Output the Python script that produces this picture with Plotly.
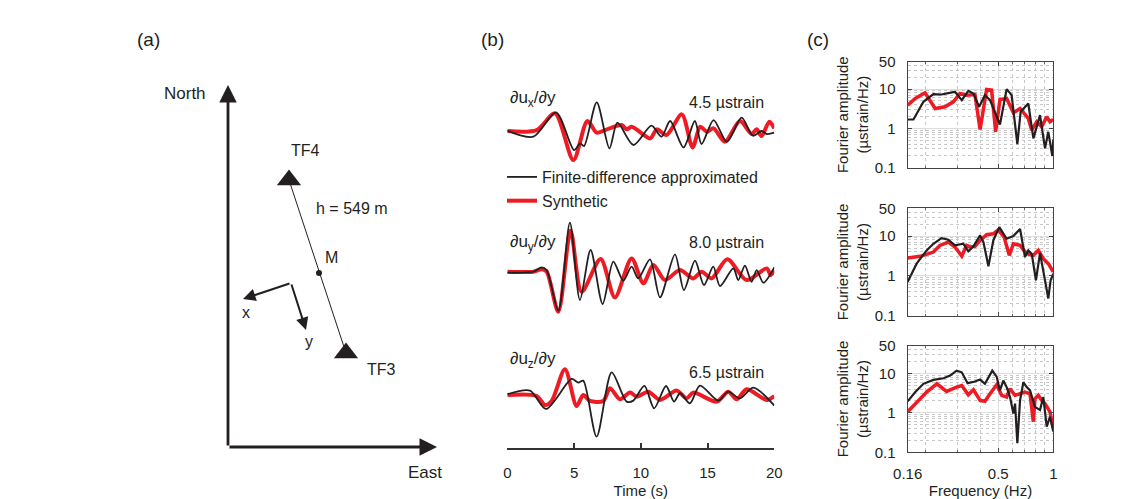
import plotly.graph_objects as go
import math

W, H = 1139, 499
BLACK = "#231F20"
RED = "#ED1C24"
FONT = "Liberation Sans"

# ---------------- Panel (a): geometry (map units, origin at the North/East corner) -------------
station_names = ["TF4", "TF3"]
station_east = [61, 118]
station_north = [267, 94]
mid_east = [91]
mid_north = [174]
north_axis_east = [0, 0]
north_axis_north = [0, 362]
east_axis_east = [0, 209]
east_axis_north = [0, 0]
local_x_east = [63, 15]
local_x_north = [164, 148]
local_y_east = [63, 78]
local_y_north = [164, 117]

# ---------------- Panel (b): strain time series (microstrain) ----------------
t_x_fd = [0, 1.95, 3.65, 5.0, 5.45, 5.75, 6.7, 7.65, 8.25, 9.45, 10.8, 11.55, 12.2, 13.2, 14.05,
          14.55, 15.45, 16.45, 17.55, 18.4, 19.05, 19.45, 20]
v_x_fd = [0, -0.93, 2.84, -3.0, -1.96, -2.38, 4.39, -2.74, 1.24, -2.22, 0.78, -0.93, 1.50, -2.59,
          1.50, -2.07, 1.65, -1.71, 2.02, -0.78, -0.05, -0.52, -0.31]
t_x_syn = [0, 2.2, 3.57, 4.95, 6.0, 6.7, 7.32, 8.57, 8.95, 9.32, 10.7, 11.2, 11.93, 13.07, 13.88,
           14.45, 14.95, 15.45, 16.3, 17.43, 18.3, 18.68, 19.05, 19.63, 20]
v_x_syn = [-0.05, 0.10, 2.69, -4.55, 1.50, -0.31, 0.10, 0.88, 0.21, 0.62, -1.19, 0.21, -0.67, 2.53,
           -2.59, 0.62, -0.16, 0.36, -1.71, 1.50, -0.52, 0.21, -0.83, 1.40, 0.36]

t_y_fd = [0, 1.95, 2.57, 2.95, 3.82, 4.69, 5.44, 6.24, 7.14, 7.94, 8.69, 9.31, 9.81, 10.69, 11.44,
          12.56, 13.23, 14.06, 14.73, 15.43, 15.93, 16.93, 17.3, 17.8, 18.3, 18.68, 19.18, 20]
v_y_fd = [0, 0.16, 0.83, 0.41, -5.89, 7.76, -4.24, 3.52, -4.86, 1.71, -1.24, 0.93, -0.88, 2.07, -3.83,
          2.84, -2.69, 1.86, -1.91, 0.93, -2.07, 0.67, -1.14, 1.09, -1.40, 0.41, -1.55, 0.83]
t_y_syn = [0, 1.95, 2.57, 2.95, 3.82, 4.74, 5.57, 6.99, 8.06, 9.31, 10.19, 10.94, 11.81, 12.93, 13.93,
           14.56, 15.3, 16.48, 17.93, 19.43, 19.73, 20]
v_y_syn = [0.16, 0.16, 0.52, 0.16, -6.05, 6.51, -2.95, 2.12, -3.83, 2.22, -1.65, 1.19, -1.14, 0.41,
           -0.88, 0.16, -0.88, 2.07, -1.14, 0.67, -0.36, 0.41]

t_z_fd = [0, 1.7, 2.9, 4.82, 5.32, 5.69, 6.69, 7.82, 8.94, 9.44, 10.27, 11.0, 11.89, 12.49, 12.94,
          13.68, 14.43, 15.81, 16.55, 17.43, 18.43, 20]
v_z_fd = [0, 0.57, -2.27, 2.38, 1.81, 2.12, -6.57, 3.41, -1.14, -0.98, 1.29, -2.17, 1.29, -1.14, 0.16,
          -1.40, 1.34, -0.98, 0.41, -0.62, 1.03, -1.76]
t_z_syn = [0, 2.2, 2.82, 3.32, 4.32, 5.19, 5.69, 6.19, 7.19, 7.69, 8.44, 9.19, 9.69, 10.56, 11.44,
           12.69, 13.43, 13.93, 15.68, 16.55, 17.18, 17.93, 19.43, 20]
v_z_syn = [-0.10, -0.26, -1.65, -1.03, 3.88, -1.81, -0.10, -1.03, -1.03, 0.93, -0.78, 0.26, -0.36,
           0.41, -0.88, 0.57, -0.62, 0.26, -1.14, 0.41, -0.78, 0.78, -0.88, -0.26]

component_labels = ["∂u<sub>x</sub>/∂y", "∂u<sub>y</sub>/∂y", "∂u<sub>z</sub>/∂y"]
scale_labels = ["4.5 \u00b5strain", "8.0 \u00b5strain", "6.5 \u00b5strain"]
time_ticks = [0, 5, 10, 15, 20]

# ---------------- Panel (c): Fourier amplitude spectra (microstrain/Hz) ----------------
f_x_fd = [0.160, 0.172, 0.195, 0.221, 0.245, 0.267, 0.290, 0.316, 0.343, 0.366, 0.393, 0.423, 0.451,
          0.511, 0.556, 0.592, 0.636, 0.663, 0.730, 0.778, 0.846, 0.901, 0.939, 0.988, 1.0]
a_x_fd = [1.69, 1.69, 4.76, 7.46, 7.31, 7.76, 8.56, 5.25, 9.07, 7.76, 3.56, 7.04, 5.25, 1.26, 10.0,
          7.04, 0.40, 2.65, 4.32, 0.557, 2.18, 0.31, 0.82, 0.198, 0.525]
f_x_syn = [0.160, 0.176, 0.199, 0.226, 0.256, 0.284, 0.309, 0.336, 0.373, 0.398, 0.432, 0.460, 0.484,
           0.511, 0.556, 0.605, 0.658, 0.730, 0.762, 0.811, 0.864, 0.920, 0.959, 1.0]
a_x_syn = [3.92, 5.79, 8.07, 3.22, 3.56, 4.76, 7.76, 7.04, 7.31, 0.944, 9.81, 9.43, 0.822, 5.46, 5.79,
           2.50, 3.22, 1.80, 0.908, 1.48, 1.10, 1.98, 1.48, 1.69]

f_y_fd = [0.160, 0.179, 0.203, 0.221, 0.245, 0.267, 0.290, 0.322, 0.343, 0.366, 0.398, 0.415, 0.442,
          0.470, 0.507, 0.556, 0.605, 0.658, 0.700, 0.730, 0.762, 0.804, 0.846, 0.901, 0.939, 0.967, 1.0]
a_y_fd = [0.708, 2.03, 4.38, 6.43, 8.91, 8.10, 5.84, 6.43, 4.14, 5.52, 10.4, 7.08, 1.74, 7.79, 16.8,
          8.58, 10.0, 15.2, 2.99, 4.38, 3.62, 0.779, 3.76, 0.858, 0.271, 0.779, 1.14]
f_y_syn = [0.160, 0.187, 0.221, 0.240, 0.267, 0.290, 0.316, 0.336, 0.351, 0.373, 0.398, 0.432, 0.470,
           0.501, 0.538, 0.575, 0.605, 0.658, 0.715, 0.778, 0.828, 0.882, 0.939, 0.980, 1.0]
a_y_syn = [2.82, 3.10, 3.98, 5.84, 7.08, 5.31, 3.16, 5.84, 5.31, 5.52, 7.79, 10.8, 11.4, 14.4, 9.44,
           3.29, 6.43, 5.84, 3.62, 3.29, 4.38, 2.71, 2.03, 1.39, 1.26]

f_z_fd = [0.160, 0.176, 0.195, 0.221, 0.251, 0.273, 0.296, 0.316, 0.340, 0.373, 0.398, 0.423, 0.464,
          0.490, 0.511, 0.533, 0.556, 0.580, 0.605, 0.618, 0.636, 0.658, 0.686, 0.715, 0.746, 0.794,
          0.846, 0.882, 0.920, 0.959, 1.0]
a_z_fd = [1.96, 3.35, 5.41, 6.81, 7.50, 8.74, 11.7, 10.6, 5.62, 6.19, 6.94, 5.41, 11.7, 8.25, 3.69,
          6.56, 4.47, 2.51, 0.96, 1.71, 0.171, 2.07, 5.96, 4.47, 3.69, 1.41, 1.17, 2.51, 0.447, 0.794,
          0.335]
f_z_syn = [0.160, 0.179, 0.203, 0.231, 0.261, 0.296, 0.316, 0.343, 0.366, 0.398, 0.423, 0.451, 0.490,
           0.522, 0.556, 0.580, 0.618, 0.658, 0.700, 0.746, 0.778, 0.794, 0.828, 0.864, 0.901, 0.959, 1.0]
a_z_syn = [1.06, 1.88, 3.35, 5.41, 3.48, 4.47, 4.92, 2.87, 3.83, 2.07, 1.96, 3.04, 5.11, 2.77, 2.51,
           4.06, 2.77, 3.04, 3.35, 3.04, 0.596, 2.28, 2.77, 2.07, 1.71, 1.06, 0.406]

freq_ticks = [0.16, 0.5, 1]
freq_ticktext = ["0.16", "0.5", "1"]
amp_ticks = [0.1, 1, 10, 50]
amp_ticktext = ["0.1", "1", "10", "50"]
freq_minor = [0.2, 0.3, 0.4, 0.6, 0.7, 0.8, 0.9]
amp_minor = [0.2, 0.3, 0.4, 0.5, 0.6, 0.7, 0.8, 0.9, 2, 3, 4, 5, 6, 7, 8, 9, 20, 30, 40]


def px_x(p):
    return p / W


def px_y(p):
    return 1 - p / H


fig = go.Figure()
annotations = []


def txt(text, x, y, size=16, xref="x", yref="y", xanchor="center", yanchor="middle", **kw):
    annotations.append(dict(text=text, x=x, y=y, xref=xref, yref=yref, xanchor=xanchor,
                            yanchor=yanchor, showarrow=False,
                            font=dict(family=FONT, size=size, color=BLACK), **kw))


def arrow(xs, ys, width, size):
    annotations.append(dict(x=xs[1], y=ys[1], ax=xs[0], ay=ys[0], xref="x", yref="y",
                            axref="x", ayref="y", text="", showarrow=True, arrowhead=2,
                            arrowsize=size, arrowwidth=width, arrowcolor=BLACK, standoff=0,
                            startstandoff=0))


# ---- Panel (a)
arrow(north_axis_east, north_axis_north, 2.8, 1.25)
arrow(east_axis_east, east_axis_north, 2.8, 1.25)
arrow(local_x_east, local_x_north, 2.0, 1.25)
arrow(local_y_east, local_y_north, 2.0, 1.25)

fig.add_trace(go.Scatter(x=station_east, y=station_north, xaxis="x", yaxis="y", mode="lines",
                         line=dict(color=BLACK, width=1), showlegend=False, hoverinfo="skip"))
fig.add_trace(go.Scatter(x=station_east, y=station_north, xaxis="x", yaxis="y", mode="markers",
                         marker=dict(symbol="triangle-up", size=21, color=BLACK), showlegend=False,
                         text=station_names, hoverinfo="text"))
fig.add_trace(go.Scatter(x=mid_east, y=mid_north, xaxis="x", yaxis="y", mode="markers",
                         marker=dict(symbol="circle", size=6, color=BLACK), showlegend=False,
                         hoverinfo="skip"))

txt("North", -43, 354, size=17)
txt("East", 197, -25, size=17)
txt(station_names[0], 77, 297)
txt(station_names[1], 153, 78)
txt("M", 103, 190)
txt("h = 549 m", 124, 239)
txt("x", 18, 135)
txt("y", 81, 106)

txt("(a)", px_x(148), px_y(40), size=19, xref="paper", yref="paper")
txt("(b)", px_x(492), px_y(40), size=19, xref="paper", yref="paper")
txt("(c)", px_x(818), px_y(40), size=19, xref="paper", yref="paper")

# ---- Panel (b)
bx_dom = [px_x(507.3), px_x(774.3)]
b_panels = [
    ("x2", "y2", (80, 190), 130.7, t_x_fd, v_x_fd, t_x_syn, v_x_syn, 99, 103),
    ("x3", "y3", (200, 340), 272.7, t_y_fd, v_y_fd, t_y_syn, v_y_syn, 243, 243),
    ("x4", "y4", (350, 448), 394.3, t_z_fd, v_z_fd, t_z_syn, v_z_syn, 360, 372),
]
pxs_per_ustrain = 6.45
layout_axes = {}
for i, (xa, ya, (top, bot), base, tf, vf, ts, vs, lpy, spy) in enumerate(b_panels):
    fig.add_trace(go.Scatter(x=ts, y=vs, xaxis=xa, yaxis=ya, mode="lines",
                             line=dict(color=RED, width=4, shape="spline", smoothing=0.8),
                             name="Synthetic", showlegend=(i == 0), legendrank=2))
    fig.add_trace(go.Scatter(x=tf, y=vf, xaxis=xa, yaxis=ya, mode="lines",
                             line=dict(color=BLACK, width=1.8, shape="spline", smoothing=0.8),
                             name="Finite-difference approximated", showlegend=(i == 0),
                             legendrank=1))
    yr = [-(bot - base) / pxs_per_ustrain, (base - top) / pxs_per_ustrain]
    layout_axes["xaxis" + xa[1:]] = dict(domain=bx_dom, range=[0, 20], anchor=ya, visible=False,
                                          fixedrange=True)
    layout_axes["yaxis" + ya[1:]] = dict(domain=[px_y(bot), px_y(top)], range=yr, anchor=xa,
                                          visible=False, fixedrange=True)
    txt(component_labels[i], px_x(508), px_y(lpy), size=17, xref="paper", yref="paper",
        xanchor="left")
    txt(scale_labels[i], px_x(766), px_y(spy), size=16, xref="paper", yref="paper",
        xanchor="right")

layout_axes["xaxis4"].update(
    visible=True, showline=True, linecolor="#333333", linewidth=1.6, ticks="inside", ticklen=5,
    tickwidth=1.6, tickcolor="#333333", tickvals=time_ticks, showgrid=False, zeroline=False,
    tickfont=dict(family=FONT, size=15, color=BLACK), ticklabelstandoff=10,
    title=dict(text="Time (s)", font=dict(family=FONT, size=15, color=BLACK), standoff=10))

# ---- Panel (c)
cx_dom = [px_x(907.7), px_x(1053.3)]
c_panels = [
    ("x5", "y5", (61.7, 167.7), f_x_fd, a_x_fd, f_x_syn, a_x_syn),
    ("x6", "y6", (208.3, 315.7), f_y_fd, a_y_fd, f_y_syn, a_y_syn),
    ("x7", "y7", (345.7, 452.3), f_z_fd, a_z_fd, f_z_syn, a_z_syn),
]
for i, (xa, ya, (top, bot), ff, af, fs, as_) in enumerate(c_panels):
    fig.add_trace(go.Scatter(x=fs, y=as_, xaxis=xa, yaxis=ya, mode="lines",
                             line=dict(color=RED, width=3.5), showlegend=False, name="Synthetic"))
    fig.add_trace(go.Scatter(x=ff, y=af, xaxis=xa, yaxis=ya, mode="lines",
                             line=dict(color=BLACK, width=2.2), showlegend=False,
                             name="Finite-difference approximated"))
    last = (i == 2)
    xax = dict(
        domain=cx_dom, anchor=ya, type="log", range=[math.log10(0.16), 0], fixedrange=True,
        showline=True, mirror="ticks", linecolor="#444444", linewidth=1.3,
        ticks="inside", ticklen=4, tickcolor="#444444", tickvals=freq_ticks, ticktext=freq_ticktext,
        showticklabels=last, showgrid=True, gridcolor="#dddddd", gridwidth=1, zeroline=False,
        minor=dict(tickvals=freq_minor, showgrid=True, gridcolor="#c8c8c8", griddash="dot",
                   gridwidth=1, ticks="inside", ticklen=2, tickcolor="#666666"),
        tickfont=dict(family=FONT, size=15, color=BLACK), ticklabelstandoff=8)
    if last:
        xax["title"] = dict(text="Frequency (Hz)", font=dict(family=FONT, size=15, color=BLACK),
                            standoff=6)
    layout_axes["xaxis" + xa[1:]] = xax
    layout_axes["yaxis" + ya[1:]] = dict(
        domain=[px_y(bot), px_y(top)], anchor=xa, type="log", range=[-1, math.log10(50)],
        fixedrange=True, showline=True, mirror="ticks", linecolor="#444444", linewidth=1.3,
        ticks="inside", ticklen=4, tickcolor="#444444", tickvals=amp_ticks, ticktext=amp_ticktext,
        showgrid=True, gridcolor="#dddddd", gridwidth=1, zeroline=False,
        minor=dict(tickvals=amp_minor, showgrid=True, gridcolor="#c8c8c8", griddash="dot",
                   gridwidth=1, ticks="", ticklen=2),
        tickfont=dict(family=FONT, size=15, color=BLACK), ticklabelstandoff=8,
        title=dict(text="Fourier amplitude<br>(\u00b5strain/Hz)",
                   font=dict(family=FONT, size=15, color=BLACK), standoff=2))

fig.update_layout(
    width=W, height=H, margin=dict(l=0, r=0, t=0, b=0, pad=0, autoexpand=False),
    paper_bgcolor="white", plot_bgcolor="rgba(0,0,0,0)",
    font=dict(family=FONT, size=15, color=BLACK),
    xaxis=dict(domain=[0, 1], range=[-228, W - 228], visible=False, fixedrange=True, anchor="y"),
    yaxis=dict(domain=[0, 1], range=[-52, H - 52], visible=False, fixedrange=True, anchor="x"),
    showlegend=True,
    legend=dict(x=px_x(502), y=px_y(160), xanchor="left", yanchor="top",
                bgcolor="rgba(0,0,0,0)", borderwidth=0, itemwidth=30, tracegroupgap=0,
                font=dict(family=FONT, size=16, color=BLACK)),
    annotations=annotations,
    **layout_axes,
)

fig.write_html("out.html")
